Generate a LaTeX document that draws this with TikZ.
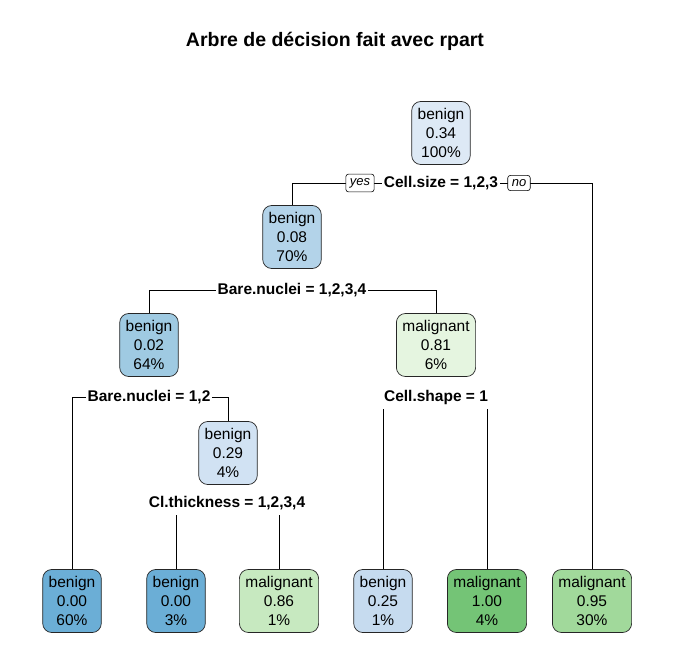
\documentclass[tikz,border=0pt]{standalone}
\usepackage{fontspec}
\setmainfont{Liberation Sans}
\usetikzlibrary{backgrounds}

\definecolor{benA}{HTML}{DDE9F5}
\definecolor{benB}{HTML}{B3D3E9}
\definecolor{benC}{HTML}{9FCAE2}
\definecolor{benD}{HTML}{D1E2F3}
\definecolor{benE}{HTML}{6BAED6}
\definecolor{benF}{HTML}{C6DBEF}
\definecolor{malA}{HTML}{E5F5E0}
\definecolor{malB}{HTML}{C7E9C0}
\definecolor{malC}{HTML}{74C476}
\definecolor{malD}{HTML}{A1D99B}

\begin{document}
\begin{tikzpicture}[x=1pt, y=-1pt,
    box/.style={draw=black!85, rounded corners=9pt, align=center, line width=0.7pt,
        font=\fontsize{15.5}{19}\selectfont, minimum height=63pt, inner xsep=6pt, inner ysep=2pt},
    split/.style={fill=white, inner xsep=1.5pt, inner ysep=5pt, font=\bfseries\fontsize{15.5}{18}\selectfont},
    tag/.style={draw, fill=white, rounded corners=2.5pt, line width=0.6pt,
        font=\itshape\fontsize{13}{14}\selectfont, inner xsep=4pt, inner ysep=4pt}]
    \useasboundingbox (0,0) rectangle (672,672);
    \node (title) at (335,41) {\bfseries\fontsize{19.5}{22}\selectfont Arbre de décision fait avec rpart};

    % inner nodes
    \node [box, fill=benA] (n1) at (441,133) {benign\\0.34\\100\%};
    \node [box, fill=benB] (n2) at (292,237) {benign\\0.08\\70\%};
    \node [box, fill=benC] (n4) at (149,345) {benign\\0.02\\64\%};
    \node [box, fill=malA] (n5) at (436,345) {malignant\\0.81\\6\%};
    \node [box, fill=benD] (n9) at (228,453) {benign\\0.29\\4\%};

    % leaves
    \node [box, fill=benE] (n8)  at (72,601)  {benign\\0.00\\60\%};
    \node [box, fill=benE] (n18) at (176,601) {benign\\0.00\\3\%};
    \node [box, fill=malB] (n19) at (279,601) {malignant\\0.86\\1\%};
    \node [box, fill=benF] (n10) at (383,601) {benign\\0.25\\1\%};
    \node [box, fill=malC] (n11) at (487,601) {malignant\\1.00\\4\%};
    \node [box, fill=malD] (n3)  at (592,601) {malignant\\0.95\\30\%};

    % splits
    \node [split] (s1) at (441,183) {Cell.size = 1,2,3};
    \node [tag] (yes) at (360,183) {yes};
    \node [tag] (no) at (519,183) {no};
    \node [split] (s2) at (292,290) {Bare.nuclei = 1,2,3,4};
    \node [split] (s4) at (149,397) {Bare.nuclei = 1,2};
    \node [split] (s5) at (436,397) {Cell.shape = 1};
    \node [split] (s9) at (227,503) {Cl.thickness = 1,2,3,4};

    \begin{scope}[on background layer, line width=0.7pt]
        \draw (s1.center) -| (n2.north);
        \draw (s1.center) -| (n3.north);
        \draw (s2.center) -| (n4.north);
        \draw (s2.center) -| (n5.north);
        \draw (s4.center) -| (n8.north);
        \draw (s4.center) -| (n9.north);
        \draw (s5.center) -| (n10.north);
        \draw (s5.center) -| (n11.north);
        \draw (s9.center) -| (n18.north);
        \draw (s9.center) -| (n19.north);
    \end{scope}
\end{tikzpicture}
\end{document}
